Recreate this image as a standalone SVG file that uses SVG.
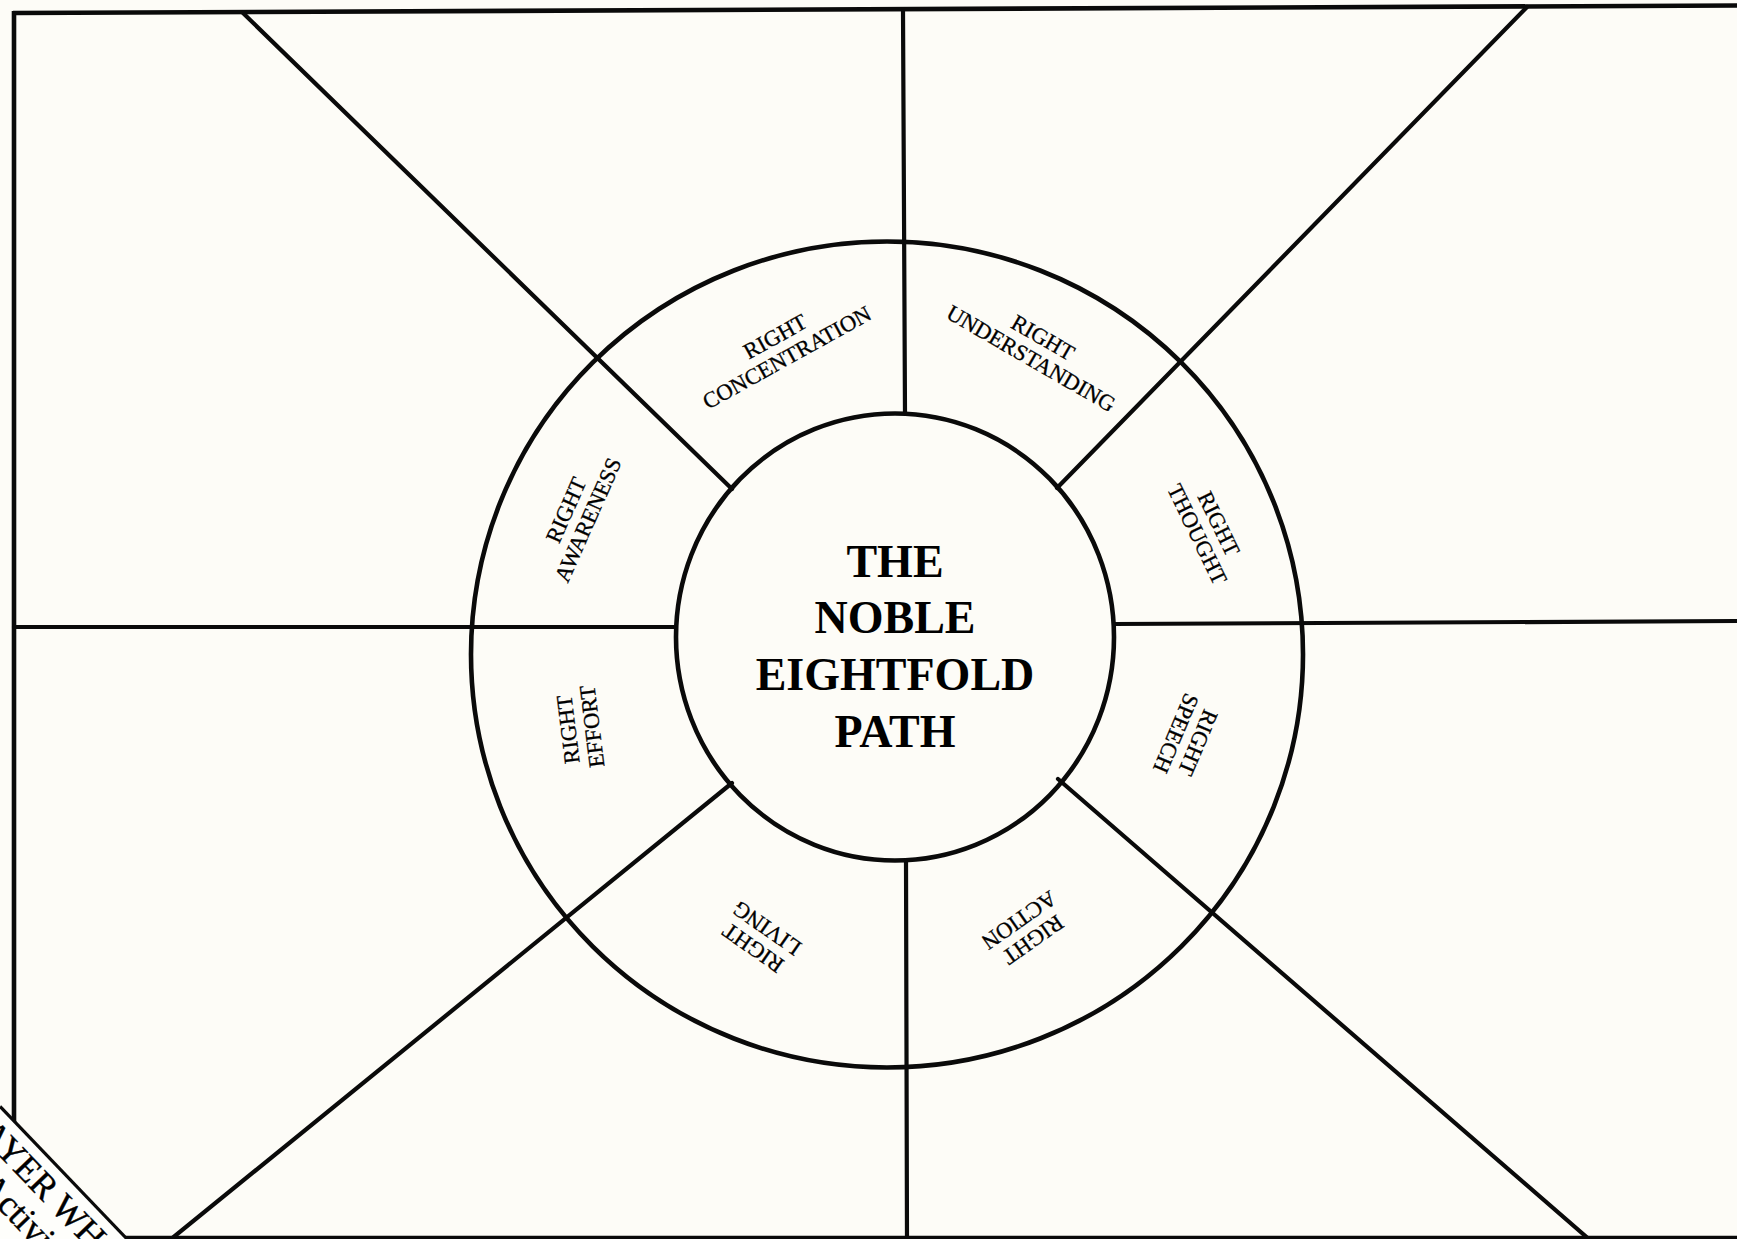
<svg xmlns="http://www.w3.org/2000/svg" width="1737" height="1239" viewBox="0 0 1737 1239">
<style>
.ln{stroke:#0a0a0a;stroke-width:4.2;fill:none;stroke-linecap:round}
.bd{stroke:#0a0a0a;stroke-width:4.6;fill:none}
.ring{stroke:#0a0a0a;stroke-width:4.6;fill:none}
.lbl{font-family:"Liberation Serif","Times New Roman",serif;font-size:22.5px;fill:#000;stroke:#000;stroke-width:0.3;text-anchor:middle}
.ttl{font-family:"Liberation Serif","Times New Roman",serif;font-size:46px;font-weight:bold;fill:#000;text-anchor:middle}
.pap{font-family:"Liberation Serif","Times New Roman",serif;font-size:36px;fill:#000;stroke:#000;stroke-width:0.4}
</style>
<rect x="0" y="0" width="1737" height="1239" fill="#fdfcf7"/>
<g id="connectors">
  <line class="bd" x1="13" y1="13" x2="1737" y2="5.5"/>
  <line class="bd" x1="14" y1="11" x2="14" y2="1125"/>
  <line class="bd" x1="120" y1="1238" x2="1737" y2="1238"/>
  <line class="ln" x1="903" y1="11" x2="905" y2="413"/>
  <line class="ln" x1="906" y1="860" x2="907" y2="1239"/>
  <line class="ln" x1="14" y1="627" x2="676" y2="627"/>
  <line class="ln" x1="1114" y1="624" x2="1737" y2="621"/>
  <line class="ln" x1="243" y1="13" x2="732" y2="489"/>
  <line class="ln" x1="1527" y1="7" x2="1057" y2="488"/>
  <line class="ln" x1="170" y1="1240" x2="732" y2="783"/>
  <line class="ln" x1="1058" y1="779" x2="1590" y2="1240"/>
</g>
<g id="outer-ring">
  <ellipse class="ring" cx="887" cy="654.5" rx="416" ry="413"/>
</g>
<g id="center">
  <ellipse class="ring" cx="895" cy="637" rx="219" ry="223.5"/>
  <text class="ttl" x="895" y="577">THE</text>
  <text class="ttl" x="895" y="633">NOBLE</text>
  <text class="ttl" x="895" y="690">EIGHTFOLD</text>
  <text class="ttl" x="895" y="747">PATH</text>
</g>
<g id="right-concentration" transform="translate(781,347) rotate(-29)">
  <text class="lbl" x="0" y="-4.5">RIGHT</text>
  <text class="lbl" x="0" y="19.5">CONCENTRATION</text>
</g>
<g id="right-understanding" transform="translate(1037,348) rotate(30)">
  <text class="lbl" x="0" y="-4.5">RIGHT</text>
  <text class="lbl" x="0" y="19.5">UNDERSTANDING</text>
</g>
<g id="right-thought" transform="translate(1208,529) rotate(64)">
  <text class="lbl" x="0" y="-4.5">RIGHT</text>
  <text class="lbl" x="0" y="19.5">THOUGHT</text>
</g>
<g id="right-speech" transform="translate(1187,738) rotate(113)">
  <text class="lbl" x="0" y="-4.5">RIGHT</text>
  <text class="lbl" x="0" y="19.5">SPEECH</text>
</g>
<g id="right-action" transform="translate(1026,930) rotate(145)">
  <text class="lbl" x="0" y="-4.5">RIGHT</text>
  <text class="lbl" x="0" y="19.5">ACTION</text>
</g>
<g id="right-living" transform="translate(760,938) rotate(-145)">
  <text class="lbl" x="0" y="-4.5">RIGHT</text>
  <text class="lbl" x="0" y="19.5">LIVING</text>
</g>
<g id="right-effort" transform="translate(580,728) rotate(-97)">
  <text class="lbl" x="0" y="-4.5">RIGHT</text>
  <text class="lbl" x="0" y="19.5">EFFORT</text>
</g>
<g id="right-awareness" transform="translate(577,515) rotate(-66)">
  <text class="lbl" x="0" y="-4.5">RIGHT</text>
  <text class="lbl" x="0" y="19.5">AWARENESS</text>
</g>
<g id="corner-sheet">
  <polygon points="0,1106.4 127,1239 0,1239" fill="#fefefb"/>
  <line x1="0" y1="1106.4" x2="128" y2="1240" stroke="#0a0a0a" stroke-width="3.2"/>
  <g transform="translate(13,1120) rotate(46.2)">
    <text class="pap" x="-14" y="35">AYER WH</text>
    <text class="pap" x="24" y="72">Activi</text>
  </g>
</g>
</svg>
